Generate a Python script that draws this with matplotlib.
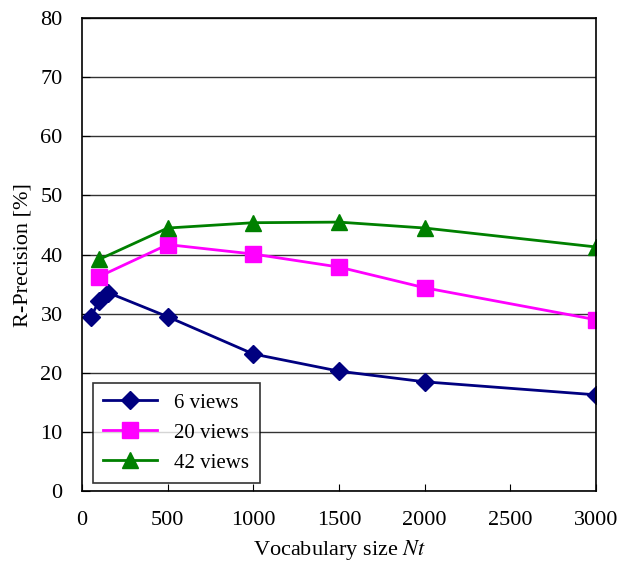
import matplotlib.pyplot as plt
import numpy as np

plt.rcParams['font.family'] = ['Liberation Serif', 'DejaVu Serif']
plt.rcParams['mathtext.fontset'] = 'stix'

x6 = [50, 100, 150, 500, 1000, 1500, 2000, 3000]
y6 = [29.4, 32.2, 33.6, 29.5, 23.2, 20.3, 18.5, 16.3]
x20 = [100, 500, 1000, 1500, 2000, 3000]
y20 = [36.3, 41.7, 40.1, 37.9, 34.4, 29.0]
x42 = [100, 500, 1000, 1500, 2000, 3000]
y42 = [39.2, 44.5, 45.4, 45.5, 44.5, 41.3]

fig = plt.figure(figsize=(6.17, 5.64), dpi=100)
ax = fig.add_axes([0.133, 0.129, 0.833, 0.839])

ax.plot(x6, y6, color='#000080', marker='D', markersize=9, linewidth=2, label='6 views')
ax.plot(x20, y20, color='#ff00ff', marker='s', markersize=11, linewidth=2, label='20 views')
ax.plot(x42, y42, color='#008000', marker='^', markersize=11, linewidth=2, label='42 views')

ax.set_xlim(0, 3000)
ax.set_ylim(0, 80)
ax.set_xticks(np.arange(0, 3001, 500))
ax.set_yticks(np.arange(0, 81, 10))
ax.yaxis.grid(True, color='#333333', linewidth=1)
ax.set_axisbelow(True)
ax.tick_params(axis='x', direction='in', length=5, labelsize=16, pad=14)
ax.tick_params(axis='y', direction='in', length=6, labelsize=16, pad=14)
for s in ax.spines.values():
    s.set_linewidth(1.2)

ax.set_xlabel('Vocabulary size $\\it{Nt}$', fontsize=16, labelpad=6)
ax.set_ylabel('R-Precision [%]', fontsize=16, labelpad=6)

leg = ax.legend(loc='lower left', bbox_to_anchor=(0.021, 0.017), borderaxespad=0,
                fontsize=15, frameon=True, fancybox=False, edgecolor='black',
                handlelength=2.6, borderpad=0.5, labelspacing=0.5)
leg.get_frame().set_linewidth(1.2)

fig.savefig('out.png', dpi=100)
